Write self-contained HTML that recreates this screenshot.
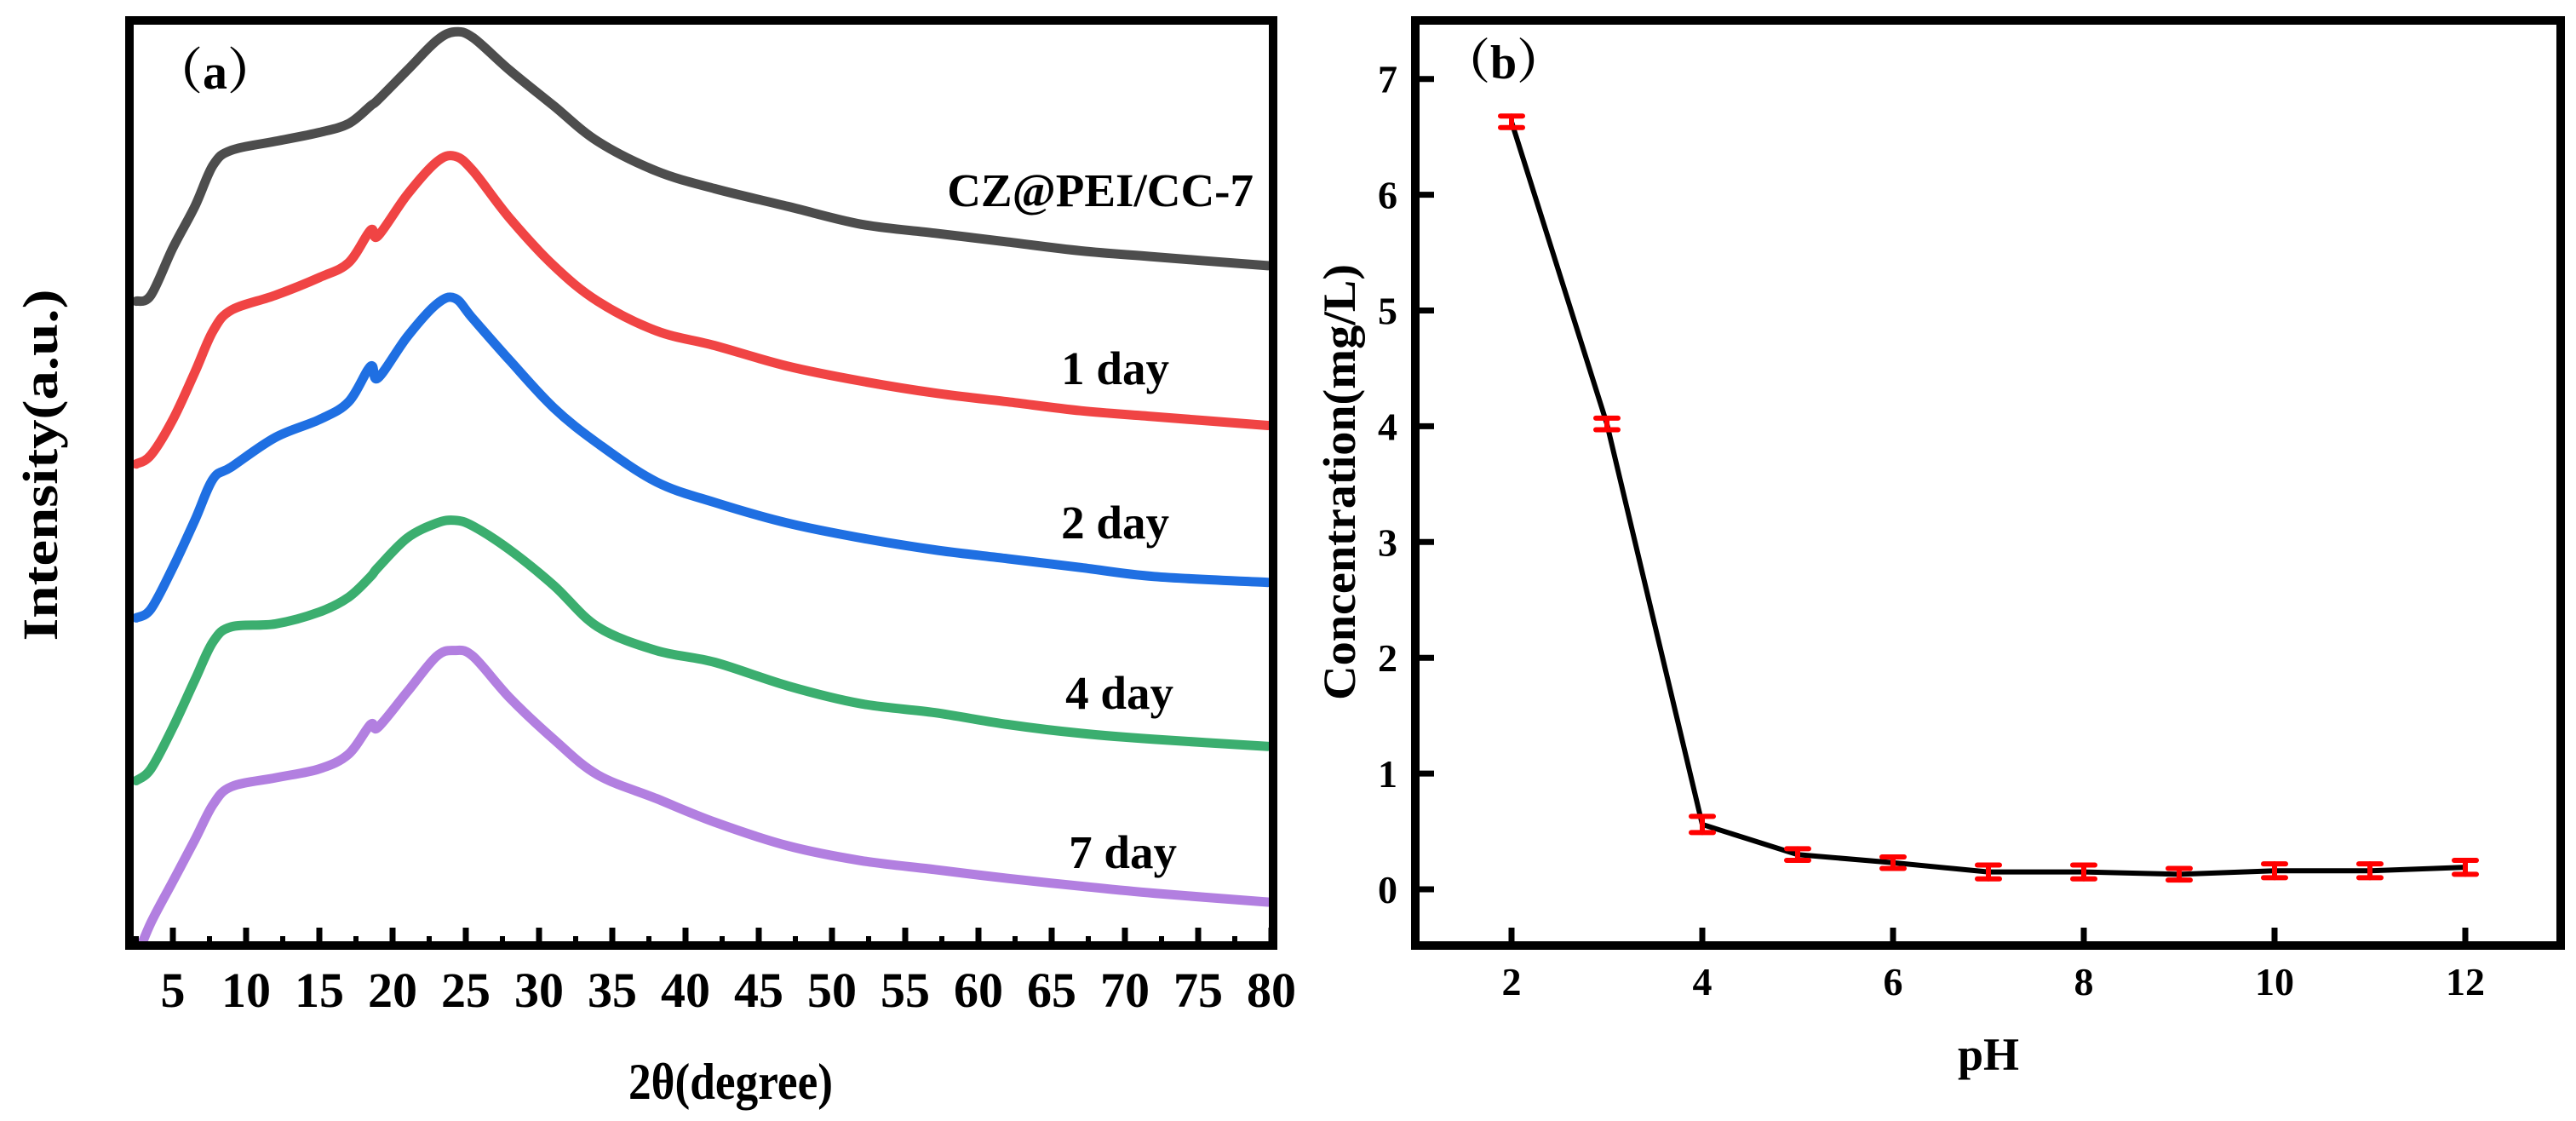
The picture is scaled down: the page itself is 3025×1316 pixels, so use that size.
<!DOCTYPE html>
<html><head><meta charset="utf-8"><style>
html,body{margin:0;padding:0;background:#fff;}
svg{display:block;}
text{font-family:"Liberation Serif","Noto Serif CJK SC",serif;font-weight:bold;fill:#000;}
</style></head><body>
<svg id="fig" width="3025" height="1316" viewBox="0 0 3025 1316" xmlns="http://www.w3.org/2000/svg">
<defs>
<clipPath id="clipA"><rect x="157" y="29" width="1333" height="1076"/></clipPath>
</defs>
<g id="panelA"></g>
<g id="panelB"></g>
</svg>
<script>
// ---------- Panel (a) data ----------
const xrdAngles = [2.5,3.5,5,6.5,7.75,9,12,15,17,18.5,19,21,23,24.25,25.5,28,31,34,38,42,47,52,57,62,67,72,79.75];
const xrdRaw = [1088,1098,1178,1248,1318,1343,1358,1373,1388,1418,1428,1478,1528,1543,1533,1478,1418,1358,1308,1278,1248,1218,1203,1188,1173,1163,1148];
const xrdDay1 = [813,828,888,968,1038,1073,1098,1128,1153,1208,1198,1268,1323,1333,1308,1228,1148,1088,1038,1013,978,953,933,918,903,893,878];
const xrdDay2 = [553,568,638,718,788,808,858,888,918,978,958,1028,1083,1093,1058,988,908,848,783,748,713,688,668,653,638,623,613];
const xrdDay4 = [278,298,368,448,513,538,543,563,588,623,638,688,713,718,708,668,608,538,498,478,438,408,393,373,358,348,336];
const xrdDay7 = [-22,38,108,178,238,268,283,298,323,373,368,428,488,498,488,418,348,288,248,208,168,143,128,113,100,88,73];
const xrdLabels = ["CZ@PEI/CC-7","1 day","2 day","4 day","7 day"];
const xrdColors = ["#4d4d4d","#f04444","#1f6fe2","#3bae6f","#b27fe0"];
const xTicksA = [5,10,15,20,25,30,35,40,45,50,55,60,65,70,75,80];

// ---------- Panel (b) data ----------
const phValues = [2,3,4,5,6,7,8,9,10,11,12];
const concValues = [6.63,4.02,0.56,0.30,0.23,0.15,0.15,0.13,0.16,0.16,0.19];
const concErrors = [0.05,0.05,0.07,0.05,0.05,0.06,0.06,0.05,0.06,0.06,0.06];
const xTicksB = [2,4,6,8,10,12];
const yTicksB = [0,1,2,3,4,5,6,7];

const NS = "http://www.w3.org/2000/svg";
function mk(tag, attrs, parent){
  const e = document.createElementNS(NS, tag);
  for (const k in attrs) e.setAttribute(k, attrs[k]);
  parent.appendChild(e);
  return e;
}
function smoothPath(pts){
  let d = "M" + pts[0][0].toFixed(1) + "," + pts[0][1].toFixed(1);
  for (let i=0;i<pts.length-1;i++){
    const p0 = pts[Math.max(0,i-1)], p1 = pts[i], p2 = pts[i+1], p3 = pts[Math.min(pts.length-1,i+2)];
    const c1x = p1[0]+(p2[0]-p0[0])/6, c1y = p1[1]+(p2[1]-p0[1])/6;
    const c2x = p2[0]-(p3[0]-p1[0])/6, c2y = p2[1]-(p3[1]-p1[1])/6;
    d += " C"+c1x.toFixed(1)+","+c1y.toFixed(1)+" "+c2x.toFixed(1)+","+c2y.toFixed(1)+" "+p2[0].toFixed(1)+","+p2[1].toFixed(1);
  }
  return d;
}

// ---------- Panel (a) ----------
(function(){
  const g = document.getElementById("panelA");
  const xA = v => 203 + (v-5)*17.2;
  const yA = v => 20 + (1568 - v)*0.695;
  const series = [xrdRaw, xrdDay1, xrdDay2, xrdDay4, xrdDay7];
  const labelPos = [[1472,242],[1373,451],[1373,632],[1378,832],[1382,1019]];
  const cg = mk("g", {"clip-path":"url(#clipA)"}, g);
  series.forEach((s, si) => {
    const pts = xrdAngles.map((a,i)=>[xA(a), yA(s[i])]);
    const p = mk("path", {d: smoothPath(pts), fill:"none", stroke: xrdColors[si], "stroke-width": 11, "stroke-linejoin":"round", "stroke-linecap":"round"}, cg);
    
    
    const t = mk("text", {x: labelPos[si][0], y: labelPos[si][1], "text-anchor":"end", "font-size": 55}, g);
    t.textContent = xrdLabels[si];
    
    
  });
  const fr = mk("rect", {x:152,y:24,width:1343,height:1086,fill:"none",stroke:"#000","stroke-width":10}, g);
  
  
  xTicksA.forEach(v => {
    const tk = mk("line", {x1:xA(v), x2:xA(v), y1:1106, y2:1089, stroke:"#000","stroke-width":7}, g);
    
    
    const mv = v - 2.5;
    const mt = mk("line", {x1:xA(mv), x2:xA(mv), y1:1106, y2:1099, stroke:"#000","stroke-width":6}, g);
    
    
    const tl = mk("text", {x:xA(v), y:1182, "text-anchor":"middle", "font-size":58}, g);
    tl.textContent = v;
    
    
  });
  const xt = mk("text", {x:858, y:1290, "text-anchor":"middle", "font-size":60, textLength:240, lengthAdjust:"spacingAndGlyphs"}, g);
  xt.textContent = "2θ(degree)";
  
  
  const yt = mk("text", {x:0, y:0, "text-anchor":"middle", "font-size":58, textLength:413, lengthAdjust:"spacingAndGlyphs", transform:"translate(67,546) rotate(-90)"}, g);
  yt.textContent = "Intensity(a.u.)";
  
  
  const pl = mk("text", {x:180, y:104, "font-size":58, "font-family":"'Noto Serif CJK SC',serif"}, g);
  pl.textContent = "（a）";
  
  
})();

// ---------- Panel (b) ----------
(function(){
  const g = document.getElementById("panelB");
  const xB = v => 1775 + (v-2)*112;
  const yB = v => 1044 - v*135.9;
  const fr = mk("rect", {x:1662,y:24,width:1345,height:1086,fill:"none",stroke:"#000","stroke-width":10}, g);
  
  
  yTicksB.forEach(v => {
    const tk = mk("line", {x1:1667, x2:1684, y1:yB(v), y2:yB(v), stroke:"#000","stroke-width":7}, g);
    
    
    const tl = mk("text", {x:1641, y:yB(v)+16, "text-anchor":"end", "font-size":46}, g);
    tl.textContent = v;
    
    
  });
  xTicksB.forEach(v => {
    const tk = mk("line", {x1:xB(v), x2:xB(v), y1:1106, y2:1089, stroke:"#000","stroke-width":7}, g);
    
    
    const tl = mk("text", {x:xB(v), y:1168, "text-anchor":"middle", "font-size":46}, g);
    tl.textContent = v;
    
    
  });
  const pts = phValues.map((p,i)=>xB(p)+","+yB(concValues[i])).join(" ");
  const ln = mk("polyline", {points: pts, fill:"none", stroke:"#000", "stroke-width":6, "stroke-linejoin":"round"}, g);
  
  
  phValues.forEach((p,i) => {
    const x = xB(p), y1 = yB(concValues[i]+concErrors[i]), y2 = yB(concValues[i]-concErrors[i]);
    const eg = mk("g", {stroke:"#ff0000","stroke-width":6,"stroke-linecap":"round"}, g);
    
    
    mk("line", {x1:x, x2:x, y1:y1, y2:y2}, eg);
    mk("line", {x1:x-13, x2:x+13, y1:y1, y2:y1}, eg);
    mk("line", {x1:x-13, x2:x+13, y1:y2, y2:y2}, eg);
  });
  const xt = mk("text", {x:2335, y:1256, "text-anchor":"middle", "font-size":54}, g);
  xt.textContent = "pH";
  
  
  const yt = mk("text", {x:0, y:0, "text-anchor":"middle", "font-size":54, textLength:512, lengthAdjust:"spacingAndGlyphs", transform:"translate(1591,566) rotate(-90)"}, g);
  yt.textContent = "Concentration(mg/L)";
  
  
  const pl = mk("text", {x:1694, y:92, "font-size":56, "font-family":"'Noto Serif CJK SC',serif"}, g);
  pl.textContent = "（b）";
  
  
})();
</script>
</body></html>
